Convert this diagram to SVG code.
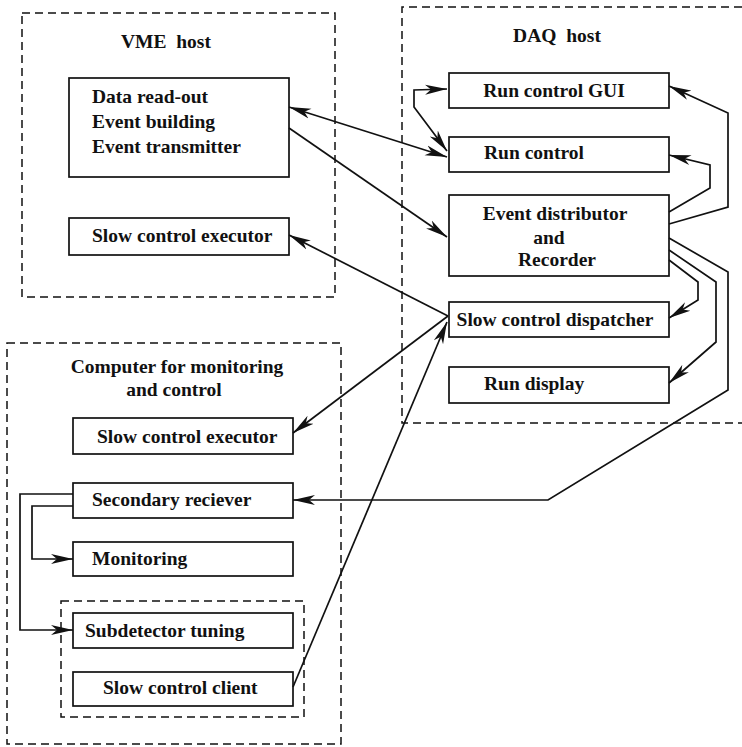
<svg xmlns="http://www.w3.org/2000/svg" width="742" height="747" viewBox="0 0 742 747">
<style>
.grp{fill:none;stroke:#111;stroke-width:1.5;stroke-dasharray:8 5}
.box{fill:#fff;stroke:#111;stroke-width:1.7}
.t{font-family:"Liberation Serif","Times New Roman",serif;font-weight:bold;font-size:19.5px;fill:#111}
.m{text-anchor:middle}
.c{fill:none;stroke:#111;stroke-width:1.7}
</style>
<defs>
<marker id="arr" markerUnits="userSpaceOnUse" viewBox="0 0 23 12" markerWidth="23" markerHeight="12" refX="22" refY="6" orient="auto-start-reverse">
<path d="M0,1 L22,6 L0,11 L6,6 z" fill="#111"/>
</marker>
</defs>
<rect width="742" height="747" fill="#fff"/>

<g id="vme-host">
<rect class="grp" x="22" y="13" width="313" height="284"/>
<text class="t m" x="166" y="48" xml:space="preserve">VME  host</text>
</g>
<g id="vme-readout">
<rect class="box" x="69" y="78" width="220" height="99"/>
<text class="t" x="92" y="103">Data read-out</text>
<text class="t" x="92" y="128">Event building</text>
<text class="t" x="92" y="153">Event transmitter</text>
</g>
<g id="vme-executor">
<rect class="box" x="69" y="218" width="220" height="37"/>
<text class="t" x="92" y="242">Slow control executor</text>
</g>

<g id="daq-host">
<path class="grp" d="M742,7 L402,7 L402,423 L742,423"/>
<text class="t m" x="557" y="42" xml:space="preserve">DAQ  host</text>
</g>
<g id="run-control-gui">
<rect class="box" x="449" y="73" width="220" height="35"/>
<text class="t m" x="554" y="97">Run control GUI</text>
</g>
<g id="run-control">
<rect class="box" x="449" y="137" width="220" height="35"/>
<text class="t" x="484" y="159">Run control</text>
</g>
<g id="event-distributor">
<rect class="box" x="449" y="195" width="220" height="81"/>
<text class="t m" x="555" y="220">Event distributor</text>
<text class="t m" x="549" y="244">and</text>
<text class="t m" x="557" y="266">Recorder</text>
</g>
<g id="slow-control-dispatcher">
<rect class="box" x="449" y="302" width="220" height="35"/>
<text class="t m" x="555" y="326">Slow control dispatcher</text>
</g>
<g id="run-display">
<rect class="box" x="449" y="367" width="220" height="36"/>
<text class="t" x="484" y="390">Run display</text>
</g>

<g id="monitoring-computer">
<rect class="grp" x="7" y="343" width="334" height="401"/>
<text class="t m" x="177" y="373">Computer for monitoring</text>
<text class="t m" x="174" y="396">and control</text>
</g>
<g id="mc-executor">
<rect class="box" x="73" y="418" width="220" height="36"/>
<text class="t" x="97" y="443">Slow control executor</text>
</g>
<g id="secondary-reciever">
<rect class="box" x="73" y="483" width="220" height="35"/>
<text class="t" x="92" y="506">Secondary reciever</text>
</g>
<g id="monitoring">
<rect class="box" x="73" y="542" width="220" height="34"/>
<text class="t" x="92" y="565">Monitoring</text>
</g>
<g id="tuning-group">
<rect class="grp" x="61" y="601" width="243" height="116"/>
</g>
<g id="subdetector-tuning">
<rect class="box" x="73" y="613" width="220" height="35"/>
<text class="t" x="85" y="637">Subdetector tuning</text>
</g>
<g id="slow-control-client">
<rect class="box" x="73" y="672" width="220" height="34"/>
<text class="t" x="103" y="694">Slow control client</text>
</g>

<g id="connectors">
<path class="c" d="M289,107 L447,157" marker-start="url(#arr)" marker-end="url(#arr)"/>
<path class="c" d="M289,128 L447,237" marker-end="url(#arr)"/>
<path class="c" d="M448,316 L289,235" marker-end="url(#arr)"/>
<path class="c" d="M448,316 L293,433" marker-end="url(#arr)"/>
<path class="c" d="M293,687 L447,322" marker-end="url(#arr)"/>
<path class="c" d="M447,89 L414,90 L414,107 L447,151" marker-start="url(#arr)" marker-end="url(#arr)"/>
<path class="c" d="M669,224 L728,207 L728,113 L669,86" marker-end="url(#arr)"/>
<path class="c" d="M669,212 L710,188 L710,165 L669,155" marker-end="url(#arr)"/>
<path class="c" d="M669,260 L698,282 L698,300 L669,318" marker-end="url(#arr)"/>
<path class="c" d="M669,250 L716,282 L716,342 L669,383" marker-end="url(#arr)"/>
<path class="c" d="M669,238 L728,272 L728,390 L548,500 L293,500" marker-end="url(#arr)"/>
<path class="c" d="M73,494 L20,494 L20,630 L73,630" marker-end="url(#arr)"/>
<path class="c" d="M73,506 L32,506 L32,559 L73,559" marker-end="url(#arr)"/>
</g>
</svg>
